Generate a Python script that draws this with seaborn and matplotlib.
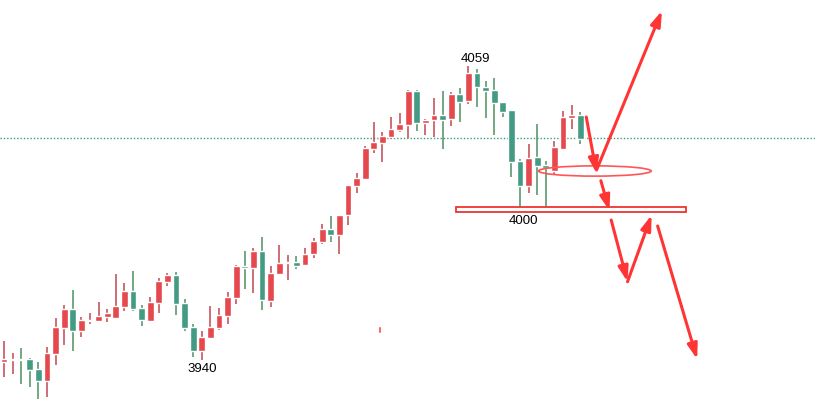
import numpy as np
import matplotlib
matplotlib.use("Agg")
import matplotlib.pyplot as plt
import seaborn as sns
from matplotlib.patches import Rectangle, Ellipse

# candle prices (index 0 = first candle on the left)
opens = [3939.3, 3940.0, 3940.4, 3940.5, 3936.4, 3931.7, 3942.5, 3952.9, 3960.4, 3951.7,
         3955.7, 3955.7, 3957.3, 3956.8, 3961.3, 3967.6, 3960.8, 3955.6, 3962.9, 3971.2,
         3974.0, 3962.8, 3953.2, 3943.7, 3948.9, 3952.9, 3957.7, 3964.9, 3977.6, 3976.9,
         3983.6, 3963.7, 3974.5, 3978.9, 3979.2, 3978.1, 3982.5, 3987.3, 3992.4, 3990.2,
         3997.9, 4009.7, 4012.5, 4024.5, 4026.9, 4029.3, 4032.0, 4034.1, 4047.6, 4034.9,
         4036.0, 4038.0, 4036.5, 4046.4, 4043.7, 4054.8, 4049.2, 4048.0, 4043.2, 4040.0,
         4019.6, 4009.7, 4021.2, 4018.0, 4015.5, 4024.5, 4036.9, 4038.0]
highs = [3947.7, 3942.9, 3944.8, 3940.9, 3939.2, 3945.2, 3956.8, 3962.0, 3968.0, 3957.3,
         3958.9, 3963.3, 3960.4, 3974.4, 3970.8, 3975.6, 3962.0, 3965.2, 3972.9, 3974.9,
         3975.2, 3964.4, 3954.4, 3951.6, 3961.6, 3960.8, 3967.2, 3978.0, 3983.6, 3984.8,
         3989.2, 3977.6, 3986.0, 3982.0, 3981.6, 3984.8, 3988.8, 3994.4, 3997.6, 3998.0,
         4010.0, 4014.8, 4025.5, 4035.2, 4031.2, 4037.2, 4038.8, 4048.0, 4048.0, 4036.4,
         4044.8, 4047.6, 4047.2, 4048.8, 4057.6, 4056.4, 4051.6, 4052.8, 4043.2, 4040.0,
         4020.4, 4026.4, 4034.4, 4019.7, 4027.6, 4039.7, 4042.0, 4039.2]
lows = [3933.3, 3934.4, 3930.4, 3929.3, 3924.4, 3925.3, 3938.0, 3946.1, 3943.7, 3949.3,
        3954.4, 3955.6, 3955.3, 3956.5, 3959.7, 3959.7, 3953.7, 3955.3, 3958.9, 3969.7,
        3958.1, 3951.7, 3941.3, 3940.1, 3948.9, 3952.1, 3954.5, 3962.5, 3968.5, 3966.9,
        3960.1, 3961.3, 3974.5, 3972.1, 3976.5, 3978.1, 3980.9, 3986.5, 3987.3, 3982.6,
        3993.9, 4006.9, 4012.5, 4022.9, 4019.3, 4028.5, 4031.2, 4028.9, 4031.7, 4030.1,
        4029.3, 4024.5, 4033.7, 4035.3, 4042.5, 4041.3, 4036.9, 4030.1, 4037.3, 4013.3,
        3999.7, 4006.9, 4006.1, 4000.5, 4014.0, 4024.5, 4032.5, 4026.5]
closes = [3940.4, 3940.4, 3940.1, 3936.1, 3931.7, 3942.8, 3953.2, 3960.4, 3951.7, 3956.0,
          3956.0, 3957.6, 3958.8, 3961.6, 3967.6, 3960.4, 3956.0, 3963.2, 3971.6, 3974.0,
          3962.5, 3952.9, 3943.7, 3949.2, 3953.2, 3958.0, 3965.2, 3977.6, 3976.9, 3983.6,
          3964.1, 3974.8, 3978.8, 3979.2, 3977.7, 3982.4, 3987.6, 3992.4, 3990.2, 3998.0,
          4010.0, 4012.8, 4024.8, 4027.2, 4029.6, 4032.4, 4034.4, 4047.6, 4034.9, 4036.0,
          4038.0, 4036.0, 4046.4, 4043.3, 4054.8, 4049.3, 4047.7, 4042.9, 4039.3, 4019.3,
          4009.7, 4020.8, 4017.7, 4016.9, 4025.2, 4037.3, 4038.0, 4028.5]

# price labels
label_texts = ["4059", "3940", "4000"]
label_x = [54.8, 23.0, 60.4]
label_y = [4060.4, 3936.4, 3995.6]

ref_level = 4028.8          # dotted horizontal line
zone_low, zone_high = 3999.1, 4001.1
zone_start, zone_end = 52.6, 79.3

# projected path arrows: (x0, y0, x1, y1)
arrows = [
    (67.7, 4037.2, 68.9, 4014.7),
    (68.9, 4016.0, 76.5, 4079.7),
    (69.4, 4011.7, 70.4, 3999.7),
    (70.6, 3996.0, 72.5, 3971.3),
    (72.5, 3971.3, 75.3, 3998.0),
    (76.0, 3993.6, 80.6, 3940.3),
]

UP = "#e5484d"
DOWN = "#449b84"
UP_WICK = "#c0474f"
DOWN_WICK = "#4f9060"
ARROW = "#ff3535"

sns.set_style("white")
plt.rcParams['font.family'] = ['Liberation Sans', 'DejaVu Sans']

fig = plt.figure(figsize=(8.15, 3.99), dpi=100)
ax = fig.add_axes([0, 0, 1, 1])

x = np.arange(len(opens))
o = np.array(opens)
c = np.array(closes)
up = c >= o
body_bottom = np.minimum(o, c)
body_height = np.maximum(np.abs(c - o), 0.5)

# wicks
ax.vlines(x[up], np.array(lows)[up], np.array(highs)[up], color=UP_WICK, lw=1.1, zorder=2)
ax.vlines(x[~up], np.array(lows)[~up], np.array(highs)[~up], color=DOWN_WICK, lw=1.1, zorder=2)
# bodies
ax.bar(x[up], body_height[up], bottom=body_bottom[up], width=0.8, color=UP, zorder=3)
ax.bar(x[~up], body_height[~up], bottom=body_bottom[~up], width=0.8, color=DOWN, zorder=3)

ax.axhline(ref_level, color="#3a9a7a", lw=1.0, linestyle=(0, (1, 1.4)), zorder=1)

ax.add_patch(Rectangle((zone_start, zone_low), zone_end - zone_start, zone_high - zone_low,
                       facecolor="white", edgecolor="#ee3333", lw=1.3, zorder=4))
ax.add_patch(Ellipse((68.7, 4015.6), 13.1, 4.1, facecolor="none",
                     edgecolor="#ff5555", lw=1.2, zorder=4))

for x0, y0, x1, y1 in arrows:
    ax.annotate("", xy=(x1, y1), xytext=(x0, y0),
                arrowprops=dict(arrowstyle="-|>,head_length=0.9,head_width=0.3",
                                color=ARROW, lw=2.2, shrinkA=0, shrinkB=0),
                zorder=5)

# small stray mark
ax.plot([43.7, 43.7], [3951.2, 3952.8], color="#ff6b6b", lw=1.5)

for t, tx, ty in zip(label_texts, label_x, label_y):
    ax.text(tx, ty, t, ha="center", va="center", fontsize=9.5, color="#000000", zorder=6)

ax.set_xlim(-0.47, 94.3)
ax.set_ylim(3924.4, 4084)
ax.axis("off")

fig.savefig("out.png", dpi=100, facecolor="white")
